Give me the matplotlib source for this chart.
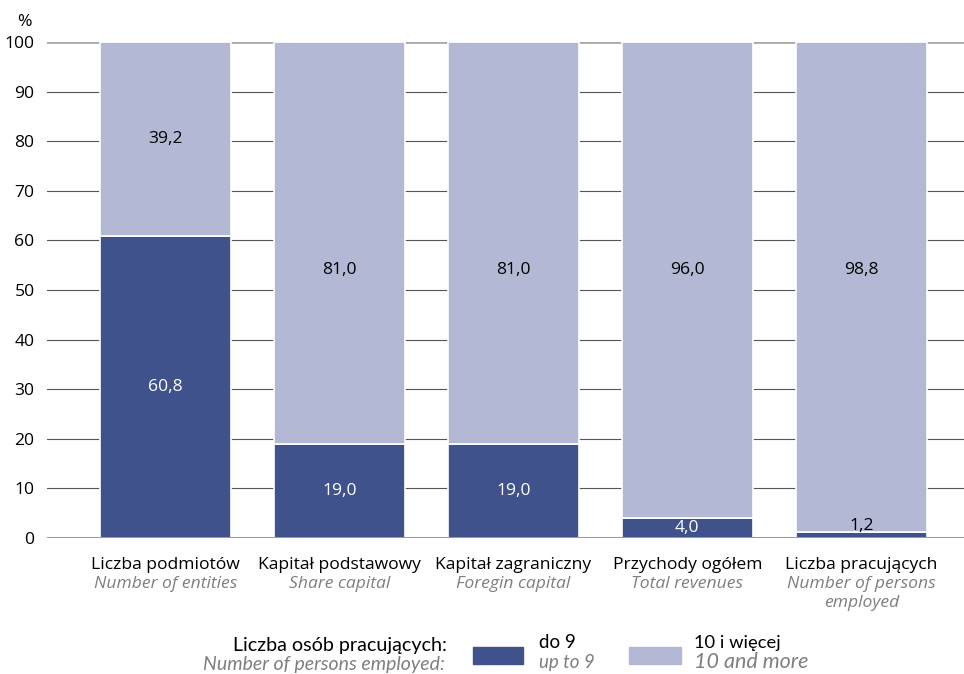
import numpy as np
import matplotlib.pyplot as plt
from matplotlib.patches import Rectangle

plt.rcParams['font.family'] = ['Open Sans', 'DejaVu Sans']

# dane
categories_pl = ['Liczba podmiotów', 'Kapitał podstawowy', 'Kapitał zagraniczny',
                 'Przychody ogółem', 'Liczba pracujących']
categories_en = ['Number of entities', 'Share capital', 'Foregin capital',
                 'Total revenues', 'Number of persons\nemployed']
up_to_9 = [60.8, 19.0, 19.0, 4.0, 1.2]
ten_and_more = [39.2, 81.0, 81.0, 96.0, 98.8]
yticks = [0, 10, 20, 30, 40, 50, 60, 70, 80, 90, 100]

dark = '#3f528c'
light = '#b3b9d4'
gray_text = '#7f7f7f'
fs = 12.6      # liczby
fs_cat = 12.6  # podpisy kategorii

W, H = 964, 674
fig = plt.figure(figsize=(W / 100, H / 100), dpi=100)
ax = fig.add_axes([47 / W, 136 / H, (W - 47) / W, 496 / H])

x = np.arange(len(categories_pl))
ax.bar(x, up_to_9, width=0.75, color=dark, edgecolor='white', linewidth=1.2, zorder=3)
ax.bar(x, ten_and_more, width=0.75, bottom=up_to_9, color=light,
       edgecolor='white', linewidth=1.2, zorder=3)

# etykiety wartości
fmt = lambda v: f'{v:.1f}'.replace('.', ',')
for i in range(len(x)):
    lo = up_to_9[i]
    if lo < 2:
        ax.text(x[i], lo + 1.3, fmt(lo), ha='center', va='center', fontsize=fs,
                color='black', zorder=4)
    else:
        ax.text(x[i], lo / 2, fmt(lo), ha='center', va='center', fontsize=fs,
                color='white', zorder=4)
    hi = ten_and_more[i]
    yy = lo + hi / 2 if hi < 50 else 54
    ax.text(x[i], yy, fmt(hi), ha='center', va='center', fontsize=fs,
            color='black', zorder=4)

# siatka
ax.set_ylim(0, 100)
ax.set_xlim(-0.68, 4.59)
for t in yticks[1:-1]:
    ax.axhline(t, color='#555555', lw=0.8, zorder=1)
ax.axhline(100, color='#aaaaaa', lw=2, zorder=1)
ax.axhline(0, color='#999999', lw=2.2, zorder=5)
ax.set_yticks(yticks)
ax.set_yticklabels([str(t) for t in yticks], fontsize=fs)
ax.tick_params(axis='y', length=0, pad=9)
ax.set_xticks([])
for s in ax.spines.values():
    s.set_visible(False)
ax.patch.set_alpha(0)

fig.text(24 / W, 1 - 22 / H, '%', fontsize=fs, ha='center', va='center')

# podpisy kategorii
for i in range(len(x)):
    ax.annotate(categories_pl[i], (x[i], 0), xytext=(0, -31), textcoords='offset pixels',
                ha='center', va='baseline', fontsize=fs_cat, color='black')
    for j, line in enumerate(categories_en[i].split('\n')):
        ax.annotate(line, (x[i], 0), xytext=(0, -50 - 19 * j), textcoords='offset pixels',
                    ha='center', va='baseline', fontsize=fs_cat, color=gray_text,
                    style='italic')

# legenda
lf = 'Lato'
fig.text(447 / W, 1 - 651 / H, 'Liczba osób pracujących:', ha='right', va='baseline',
         fontsize=14.2, family=lf)
fig.text(445 / W, 1 - 670 / H, 'Number of persons employed:', ha='right', va='baseline',
         fontsize=14.0, color=gray_text, style='italic', family=lf)
fig.patches.append(Rectangle((473 / W, 1 - 664 / H), 50 / W, 17 / H, color=dark,
                             transform=fig.transFigure))
fig.patches.append(Rectangle((629 / W, 1 - 664 / H), 52 / W, 17 / H, color=light,
                             transform=fig.transFigure))
fig.text(539 / W, 1 - 648 / H, 'do 9', ha='left', va='baseline', fontsize=13.5,
         family=lf)
fig.text(539 / W, 1 - 668 / H, 'up to 9', ha='left', va='baseline', fontsize=13.5,
         color=gray_text, style='italic', family=lf)
fig.text(694 / W, 1 - 648 / H, '10 i więcej', ha='left', va='baseline', fontsize=13.2,
         family=lf)
fig.text(694 / W, 1 - 668 / H, '10 and more', ha='left', va='baseline', fontsize=15.5,
         color=gray_text, style='italic', family=lf)

fig.savefig('out.png', dpi=100)
